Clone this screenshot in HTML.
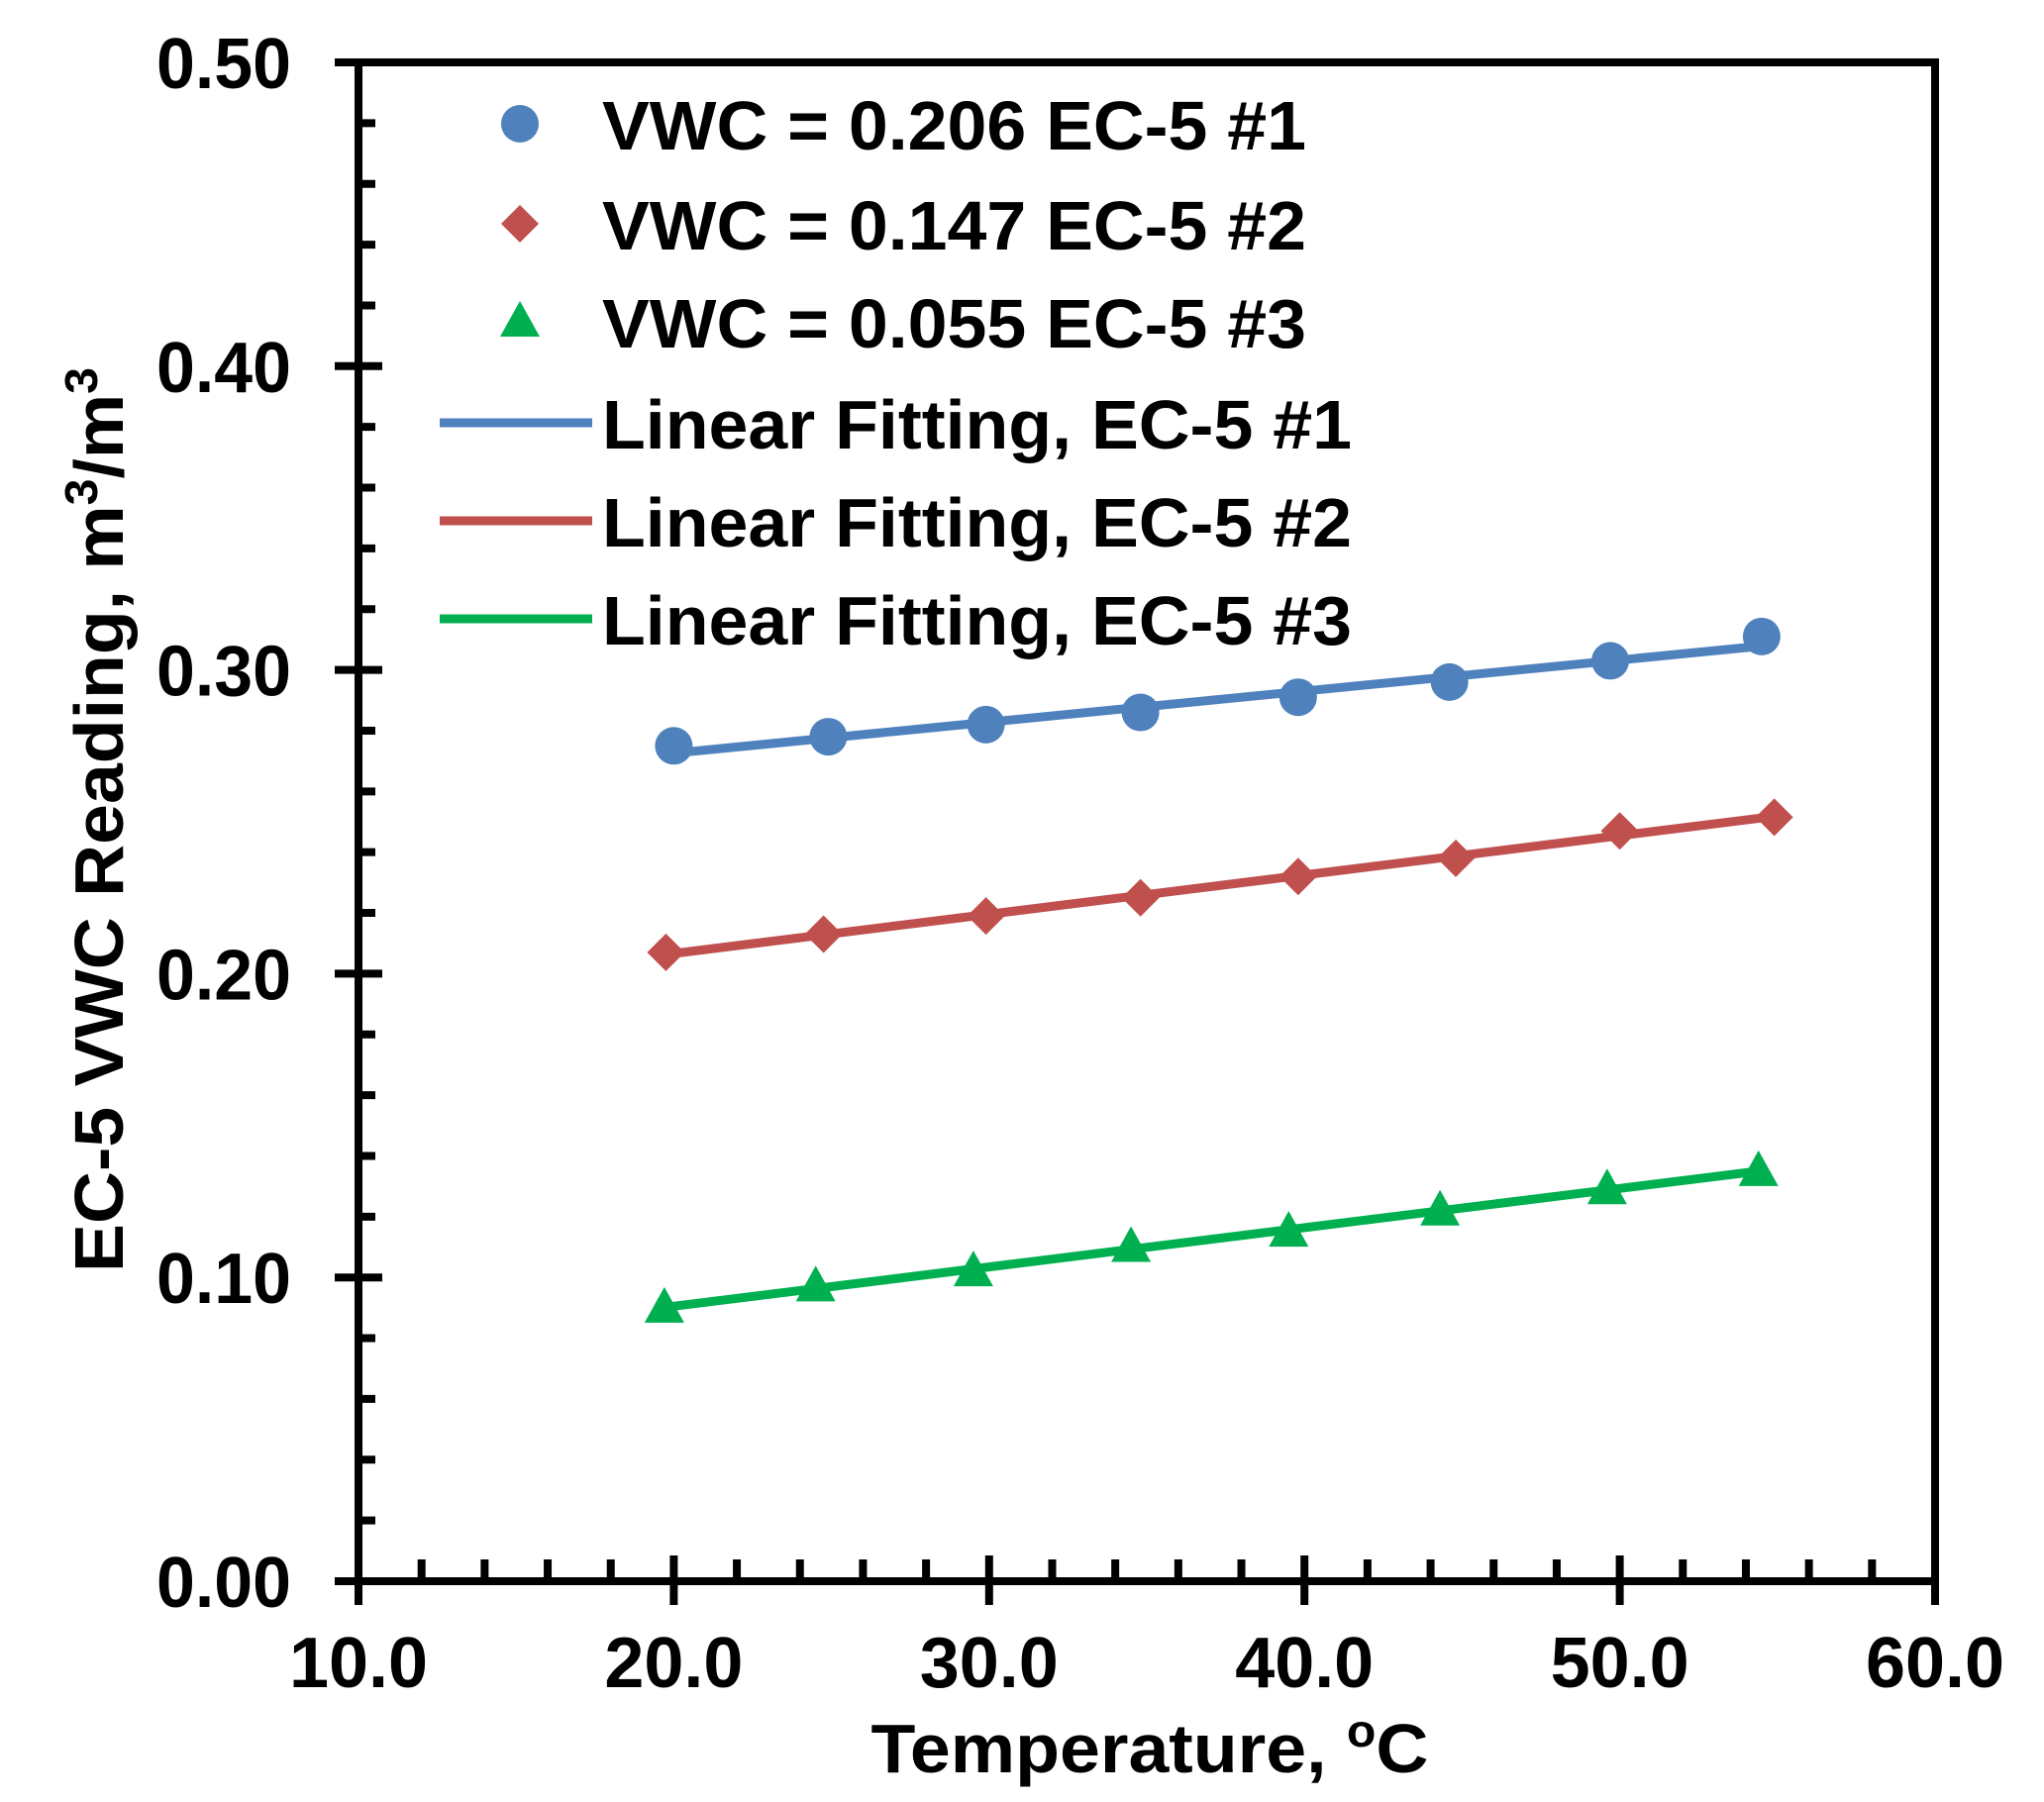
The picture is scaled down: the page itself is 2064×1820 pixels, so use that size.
<!DOCTYPE html>
<html><head><meta charset="utf-8"><style>
html,body{margin:0;padding:0;background:#fff;}
svg{display:block;}
text{font-family:"Liberation Sans",Arial,sans-serif;font-weight:bold;fill:#000;}
</style></head>
<body>
<svg id="chart" width="2064" height="1820" viewBox="0 0 2064 1820" xmlns="http://www.w3.org/2000/svg">
<g id="marks"></g>
<g id="axes"></g>
<g id="legend"></g>
<text transform="translate(124,828) rotate(-90)" text-anchor="middle" font-size="70" textLength="914" lengthAdjust="spacingAndGlyphs">EC-5 VWC Reading, m<tspan font-size="46" dy="-26">3</tspan><tspan dy="26">/m</tspan><tspan font-size="46" dy="-26">3</tspan></text>
<text x="1161" y="1790" text-anchor="middle" font-size="70" textLength="563" lengthAdjust="spacingAndGlyphs">Temperature, <tspan font-size="46" dy="-26">o</tspan><tspan dy="26">C</tspan></text>
</svg>
<script>
const xTicks = [10, 20, 30, 40, 50, 60];
const xTickLabels = ["10.0", "20.0", "30.0", "40.0", "50.0", "60.0"];
const yTicks = [0, 0.1, 0.2, 0.3, 0.4, 0.5];
const yTickLabels = ["0.00", "0.10", "0.20", "0.30", "0.40", "0.50"];
const xBlue = [20.0, 24.9, 29.9, 34.8, 39.8, 44.6, 49.7, 54.5];
const yBlue = [0.275, 0.278, 0.282, 0.286, 0.291, 0.296, 0.303, 0.311];
const xRed = [19.75, 24.75, 29.9, 34.8, 39.8, 44.8, 50.0, 54.9];
const yRed = [0.207, 0.213, 0.219, 0.225, 0.232, 0.238, 0.247, 0.2515];
const xGreen = [19.7, 24.5, 29.5, 34.5, 39.5, 44.3, 49.6, 54.4];
const yGreen = [0.090, 0.097, 0.102, 0.110, 0.115, 0.122, 0.129, 0.135];
const legendLabels = ["VWC = 0.206 EC-5 #1", "VWC = 0.147 EC-5 #2", "VWC = 0.055 EC-5 #3",
  "Linear Fitting, EC-5 #1", "Linear Fitting, EC-5 #2", "Linear Fitting, EC-5 #3"];

const NS = "http://www.w3.org/2000/svg";
const X0 = 362, X1 = 1954, Y0 = 1597, Y1 = 63;
const sx = v => X0 + (v - 10) / 50 * (X1 - X0);
const sy = v => Y0 - v / 0.5 * (Y0 - Y1);
function mk(tag, attrs, parent) {
  const e = document.createElementNS(NS, tag);
  for (const k in attrs) e.setAttribute(k, attrs[k]);
  parent.appendChild(e);
  return e;
}
const axes = document.getElementById('axes');
const marks = document.getElementById('marks');
const legend = document.getElementById('legend');

let fr = mk('rect', {x: X0, y: Y1, width: X1 - X0, height: Y0 - Y1, fill: 'none', stroke: '#000', 'stroke-width': 8}, axes);



for (let v = 10; v <= 60.001; v += 2) {
  const major = Math.abs(v / 10 - Math.round(v / 10)) < 1e-6;
  const t = mk('line', {x1: sx(v), x2: sx(v), y1: major ? Y0 - 26 : Y0 - 22, y2: major ? Y0 + 24 : Y0, stroke: '#000', 'stroke-width': 8}, axes);
  
  
}
xTicks.forEach((v, i) => {
  const t = mk('text', {x: sx(v), y: 1704, 'text-anchor': 'middle', 'font-size': 72, textLength: 140, lengthAdjust: 'spacingAndGlyphs'}, axes);
  t.textContent = xTickLabels[i];
  
  
});
for (let k = 0; k <= 25; k++) {
  const v = k * 0.02;
  const major = k % 5 === 0;
  const t = mk('line', {x1: major ? X0 - 24 : X0, x2: major ? X0 + 24 : X0 + 17, y1: sy(v), y2: sy(v), stroke: '#000', 'stroke-width': 8}, axes);
  
  
}
yTicks.forEach((v, i) => {
  const t = mk('text', {x: 294, y: sy(v) + 26, 'text-anchor': 'end', 'font-size': 72, textLength: 136, lengthAdjust: 'spacingAndGlyphs'}, axes);
  t.textContent = yTickLabels[i];
  
  
});

function fit(xs, ys) {
  const n = xs.length;
  const mx = xs.reduce((a, b) => a + b) / n, my = ys.reduce((a, b) => a + b) / n;
  let num = 0, den = 0;
  for (let i = 0; i < n; i++) { num += (xs[i] - mx) * (ys[i] - my); den += (xs[i] - mx) ** 2; }
  const m = num / den;
  return [m, my - m * mx];
}
function marker(shape, cx, cy, color, parent) {
  let e;
  if (shape === 'circle') e = mk('circle', {cx, cy, r: 19, fill: color}, parent);
  else if (shape === 'diamond') e = mk('polygon', {points: `${cx},${cy-19} ${cx+19},${cy} ${cx},${cy+19} ${cx-19},${cy}`, fill: color}, parent);
  else e = mk('polygon', {points: `${cx},${cy-21} ${cx+20},${cy+15} ${cx-20},${cy+15}`, fill: color}, parent);
  return e;
}
const series = [
  {xs: xBlue, ys: yBlue, color: '#4F81BD', shape: 'circle', name: 'blue'},
  {xs: xRed, ys: yRed, color: '#C0504D', shape: 'diamond', name: 'red'},
  {xs: xGreen, ys: yGreen, color: '#00B050', shape: 'triangle', name: 'green'}
];
series.forEach(s => {
  const [m, b] = fit(s.xs, s.ys);
  const xa = Math.min(...s.xs), xb = Math.max(...s.xs);
  const ln = mk('line', {x1: sx(xa), y1: sy(m * xa + b), x2: sx(xb), y2: sy(m * xb + b), stroke: s.color, 'stroke-width': 9}, marks);
  
  
  s.xs.forEach((x, i) => {
    const p = marker(s.shape, sx(x), sy(s.ys[i]), s.color, marks);
    
    
  });
});

const rowY = [125, 226, 325, 427, 526, 625];
const lens = [711, 711, 711, 757, 757, 757];
legendLabels.forEach((lab, i) => {
  const s = series[i % 3];
  if (i < 3) {
    const mkr = marker(s.shape, 525, rowY[i], s.color, legend);
    
    
  } else {
    const l = mk('line', {x1: 444, x2: 598, y1: rowY[i], y2: rowY[i], stroke: s.color, 'stroke-width': 9}, legend);
    
    
  }
  const t = mk('text', {x: 608, y: rowY[i] + 26, 'font-size': 70, textLength: lens[i], lengthAdjust: 'spacingAndGlyphs'}, legend);
  t.textContent = lab;
  
  
});
</script>
</body></html>
